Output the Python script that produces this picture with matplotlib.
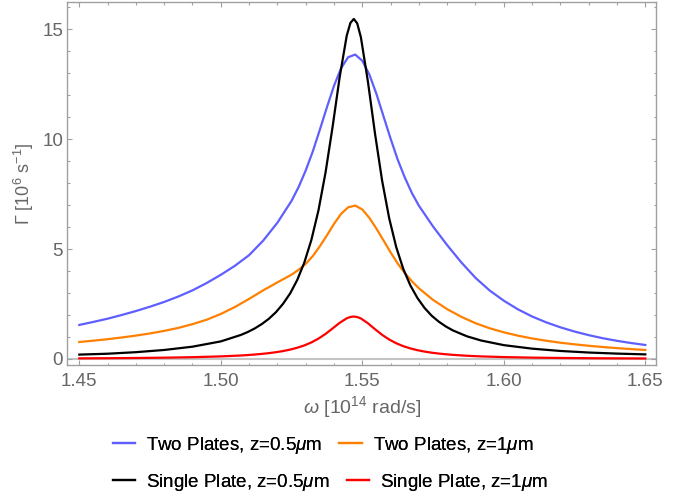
import matplotlib
matplotlib.use("Agg")
import matplotlib.pyplot as plt
from matplotlib.ticker import MultipleLocator

plt.rcParams['font.family'] = ['Liberation Sans', 'DejaVu Sans']
plt.rcParams['mathtext.fontset'] = 'custom'
plt.rcParams['mathtext.rm'] = 'Liberation Sans'
plt.rcParams['mathtext.it'] = 'Liberation Sans:italic'

# frequency samples, 10^14 rad/s (denser around the resonance)
omega_two = [1.450, 1.455, 1.460, 1.465, 1.470, 1.475, 1.480, 1.485, 1.490, 1.495,
             1.500, 1.505, 1.510, 1.515, 1.520, 1.525,
             1.5275, 1.530, 1.5325, 1.535, 1.5375, 1.540, 1.5425, 1.545, 1.5475,
             1.550, 1.5525, 1.555, 1.5575, 1.560, 1.5625, 1.565, 1.5675,
             1.570, 1.575, 1.580, 1.585, 1.590, 1.595, 1.600, 1.605, 1.610,
             1.615, 1.620, 1.625, 1.630, 1.635, 1.640, 1.645, 1.650]

omega_single = [1.450, 1.460, 1.470, 1.480, 1.490, 1.500, 1.507, 1.5095, 1.512,
                1.5145, 1.517, 1.5195, 1.522, 1.5245, 1.527, 1.5295, 1.532,
                1.5345, 1.537, 1.5395, 1.542, 1.5445, 1.5458, 1.547, 1.5482,
                1.5495, 1.552, 1.5545, 1.557, 1.5595, 1.562, 1.5645, 1.567,
                1.5695, 1.572, 1.5745, 1.577, 1.5795, 1.582, 1.587, 1.592,
                1.600, 1.610, 1.620, 1.630, 1.640, 1.650]

# decay rate, 10^6 1/s
two_plates_05 = [1.548, 1.687, 1.832, 2.001, 2.180, 2.378, 2.594, 2.841, 3.121, 3.453,
                 3.827, 4.239, 4.721, 5.385, 6.196, 7.189,
                 7.819, 8.569, 9.433, 10.424, 11.444, 12.42, 13.22, 13.72, 13.84,
                 13.56, 12.93, 12.05, 11.03, 10.02, 9.068, 8.257, 7.552,
                 6.968, 6.025, 5.175, 4.390, 3.690, 3.115, 2.650, 2.258, 1.932,
                 1.666, 1.440, 1.248, 1.084, 0.944, 0.826, 0.725, 0.638]

two_plates_1 = [0.772, 0.834, 0.900, 0.978, 1.064, 1.162, 1.278, 1.415, 1.584, 1.785,
                2.048, 2.366, 2.733, 3.123, 3.483, 3.833,
                4.057, 4.325, 4.679, 5.125, 5.621, 6.143, 6.596, 6.897, 6.975,
                6.798, 6.414, 5.924, 5.391, 4.847, 4.342, 3.911, 3.536,
                3.215, 2.687, 2.264, 1.917, 1.627, 1.398, 1.214, 1.060, 0.934,
                0.830, 0.741, 0.666, 0.601, 0.544, 0.494, 0.450, 0.411]

single_plate_05 = [0.20, 0.24, 0.31, 0.41, 0.56, 0.80, 1.09, 1.225, 1.39,
                   1.589, 1.83, 2.13, 2.51, 2.98, 3.59, 4.38, 5.41,
                   6.75, 8.47, 10.55, 12.81, 14.70, 15.28, 15.46, 15.26,
                   14.63, 12.60, 10.24, 8.11, 6.40, 5.08, 4.09, 3.34,
                   2.77, 2.32, 1.97, 1.70, 1.48, 1.30, 1.03, 0.84,
                   0.63, 0.47, 0.365, 0.294, 0.245, 0.21]

single_plate_1 = [0.029, 0.036, 0.046, 0.060, 0.082, 0.118, 0.159, 0.179, 0.203,
                  0.232, 0.266, 0.309, 0.361, 0.427, 0.511, 0.617, 0.753,
                  0.926, 1.139, 1.388, 1.645, 1.850, 1.911, 1.930, 1.909,
                  1.843, 1.623, 1.354, 1.099, 0.885, 0.715, 0.582, 0.480,
                  0.400, 0.337, 0.287, 0.247, 0.215, 0.188, 0.147, 0.118,
                  0.087, 0.062, 0.047, 0.036, 0.029, 0.024]

labels = ['Two Plates, z=0.5$\\mu$m', 'Two Plates, z=1$\\mu$m',
          'Single Plate, z=0.5$\\mu$m', 'Single Plate, z=1$\\mu$m']
colors = ['#5f5fff', '#ff8000', '#000000', '#ff0000']

frame_col = '#a0a0a0'
text_col = '#666666'

fig = plt.figure(figsize=(6.85, 4.98), dpi=100)
ax = fig.add_axes([67.3 / 685, 1 - 365 / 498, (656.3 - 67.3) / 685, (365 - 2) / 498])

ax.axhline(0, color='#c4c4c4', lw=1.5, zorder=1)
series = [(omega_two, two_plates_05), (omega_two, two_plates_1),
          (omega_single, single_plate_05), (omega_single, single_plate_1)]
lines = []
for (xs, ys), c, lab in zip(series, colors, labels):
    ln, = ax.plot(xs, ys, color=c, lw=1.6, label=lab, zorder=3)
    lines.append(ln)

ax.set_xlim(1.44576, 1.65389)
ax.set_ylim(-0.273, 16.23)
ax.xaxis.set_minor_locator(MultipleLocator(0.01))
ax.yaxis.set_minor_locator(MultipleLocator(1))
ax.set_xticks([1.45, 1.50, 1.55, 1.60, 1.65])
ax.set_xticklabels(['1.45', '1.50', '1.55', '1.60', '1.65'])
ax.set_yticks([0, 5, 10, 15])
ax.set_yticklabels(['0', '5', '10', '15'])

for s in ax.spines.values():
    s.set_color(frame_col)
    s.set_linewidth(1.0)
ax.tick_params(which='both', direction='in', top=True, right=True,
               color=frame_col, width=0.8, labelcolor=text_col, labelsize=13.5)
ax.tick_params(which='major', length=3.3)
ax.tick_params(which='minor', length=1.8)
ax.tick_params(axis='x', pad=5.5)
ax.tick_params(axis='y', pad=3)

fig.text(362 / 685, 1 - 407 / 498, '$\\omega$ [10$^{14}$ rad/s]',
         ha='center', va='center', color=text_col, fontsize=14)
fig.text(24 / 685, 1 - 184 / 498, '$\\Gamma$ [10$^{6}$ s$^{-1}$]',
         ha='center', va='center', rotation=90, color=text_col, fontsize=13)

# two left-aligned legend rows below the plot
for row, yc in (([0, 1], 445), ([2, 3], 482)):
    leg = fig.legend([lines[i] for i in row], [labels[i] for i in row],
                     ncol=2, loc='center left',
                     bbox_to_anchor=(112.5 / 685, 1 - yc / 498),
                     frameon=False, fontsize=13.5, borderpad=0,
                     handlelength=1.2, handletextpad=0.6, columnspacing=0.9,
                     borderaxespad=0)
    fig.add_artist(leg)

fig.savefig('out.png', dpi=100)
